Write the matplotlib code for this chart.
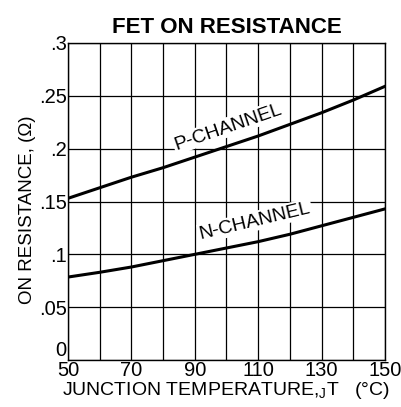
import matplotlib
matplotlib.use('Agg')
import matplotlib.pyplot as plt
import numpy as np

# Values
temps = [50, 60, 70, 80, 90, 100, 110, 120, 130, 140, 150]
p_channel = [0.153, 0.163, 0.173, 0.182, 0.192, 0.202, 0.212, 0.223, 0.234, 0.246, 0.259]
n_channel = [0.0785, 0.083, 0.088, 0.094, 0.100, 0.106, 0.112, 0.119, 0.127, 0.135, 0.143]

x_ticks = [50, 70, 90, 110, 130, 150]
y_ticks = [0, 0.05, 0.1, 0.15, 0.2, 0.25, 0.3]
y_labels = ["0", ".05", ".1", ".15", ".2", ".25", ".3"]

plt.rcParams['font.family'] = ['Liberation Sans', 'DejaVu Sans']

fig = plt.figure(figsize=(4.02, 4.07), dpi=100)
ax = fig.add_axes([68 / 402, 1 - 360 / 407, 317 / 402, 317 / 407])

ax.plot(temps, p_channel, color='black', lw=2.2, zorder=3)
ax.plot(temps, n_channel, color='black', lw=2.2, zorder=3)

ax.set_xlim(50, 150)
ax.set_ylim(0, 0.3)
ax.set_xticks(x_ticks)
ax.set_xticks(range(50, 151, 10), minor=True)
ax.set_yticks(y_ticks)
ax.set_yticklabels(y_labels)
ax.grid(True, which='both', color='black', lw=0.9)
ax.set_axisbelow(True)
ax.tick_params(which='both', length=0, labelsize=14.5, pad=1)
# the "0" sits above the bottom line in the original
ax.get_yticklabels()[0].set_va('bottom')
for s in ax.spines.values():
    s.set_linewidth(1.0)

ax.text(100.5, 0.2205, "P-CHANNEL", rotation=19, fontsize=14, ha='center', va='center',
        rotation_mode='anchor',
        bbox=dict(facecolor='white', edgecolor='none', pad=1), zorder=4)
ax.text(109, 0.1315, "N-CHANNEL", rotation=13.5, fontsize=14, ha='center', va='center',
        rotation_mode='anchor',
        bbox=dict(facecolor='white', edgecolor='none', pad=1), zorder=4)

ax.set_title("FET ON RESISTANCE", fontsize=16, fontweight='bold', pad=7)
ax.set_ylabel("ON RESISTANCE, (\u03a9)", fontsize=13.5)
ax.yaxis.set_label_coords(-0.10, 0.475)
ax.set_xlabel(r"JUNCTION TEMPERATURE,$_\mathregular{J}$T   (°C)", fontsize=14, labelpad=0)

fig.savefig("out.png", dpi=100)
